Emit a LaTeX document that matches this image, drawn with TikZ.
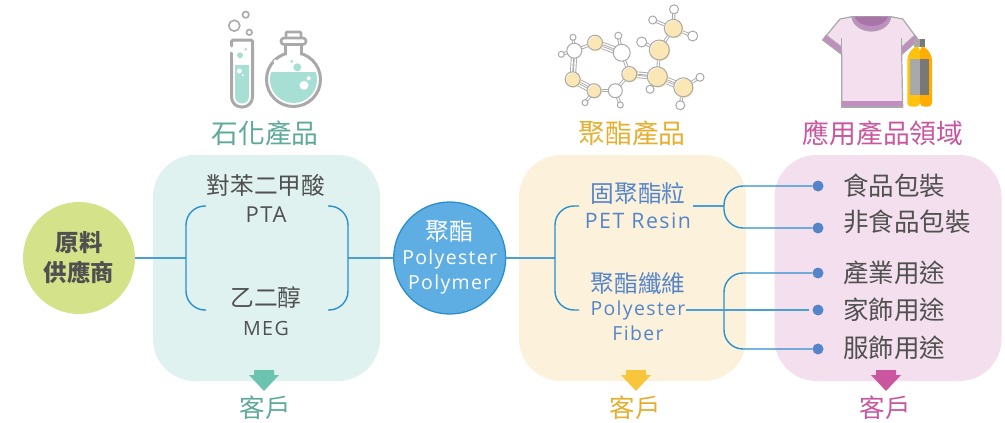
\documentclass[tikz,border=0pt]{standalone}
\usepackage{fontspec}
\setmainfont{Noto Sans CJK TC}
\newfontfamily\lat[LetterSpace=7]{Open Sans}
\definecolor{linec}{HTML}{2A8FCF}
\definecolor{dotc}{HTML}{5585C8}
\definecolor{tealp}{HTML}{DFF2EF}
\definecolor{yelp}{HTML}{FCF2DC}
\definecolor{pinkp}{HTML}{F3DFEE}
\definecolor{teald}{HTML}{5FA99A}
\definecolor{yeld}{HTML}{E5AE2E}
\definecolor{pinkd}{HTML}{C9569F}
\definecolor{tealar}{HTML}{6CC4B0}
\definecolor{yelar}{HTML}{F8C63D}
\definecolor{ink}{HTML}{505050}
\definecolor{icong}{HTML}{A9A9A9}
\definecolor{liq}{HTML}{A8DFD5}
\definecolor{atomy}{HTML}{FBE7B5}
\definecolor{shirtp}{HTML}{C08FC0}
\definecolor{shirtd}{HTML}{A875A8}
\newcommand\bnd[2]{\draw[icong,line width=3.2] (#1)--(#2);\draw[white,line width=1.4] (#1)--(#2);}
\newcommand\dbl[2]{\begin{scope}[transform canvas={shift={(1.6pt,1.6pt)}}]\bnd{#1}{#2}\end{scope}\begin{scope}[transform canvas={shift={(-1.6pt,-1.6pt)}}]\bnd{#1}{#2}\end{scope}}
\newcommand\atomw[3]{\draw[icong,fill=white,line width=1] (#1,#2) circle[radius=#3pt];}
\newcommand\atomy[3]{\fill[white] (#1,#2) circle[radius=#3pt];\fill[atomy] (#1+1,#2+1) circle[radius=#3pt];\draw[icong,line width=1] (#1,#2) circle[radius=#3pt];}
\newcommand\arrowdown[2]{\fill[#2] (#1-10,370)--(#1+10,370)--(#1+10,375)--(#1+15,375)--(#1,391)--(#1-15,375)--(#1-10,375)--cycle;}
\tikzset{
  panel/.style={minimum width=227pt,minimum height=226pt,rounded corners=42pt,draw=none,inner sep=0},
  hub/.style={circle,minimum size=112pt,inner sep=0},
  conn/.style={draw=linec,line width=1.4,rounded corners=19pt},
  feed/.style={draw=linec!85!white,line width=1.8},
  title/.style={font=\fontsize{26.8}{29}\selectfont,inner sep=0},
  cust/.style={font=\fontsize{25.5}{28}\selectfont,inner sep=0},
  dark/.style={text=ink,font=\fontsize{23.7}{26}\selectfont,inner sep=0},
  latd/.style={text=ink,font=\lat\fontsize{19.6}{22}\selectfont,inner sep=0},
  blue/.style={text=dotc,font=\fontsize{23.7}{26}\selectfont,inner sep=0},
  latb/.style={text=dotc,font=\lat\fontsize{19.4}{22}\selectfont,inner sep=0},
  item/.style={text=ink,font=\fontsize{25.5}{28}\selectfont,inner sep=0,anchor=west},
  dotn/.style={circle,fill=dotc,minimum size=11pt,inner sep=0},
}
\begin{document}
\begin{tikzpicture}[x=1pt,y=-1pt]
\useasboundingbox (0,0) rectangle (1005,423);
% panels
\node[panel,fill=tealp] (pa) at (266.5,268) {};
\node[panel,fill=yelp] (pb) at (632.5,268) {};
\node[panel,fill=pinkp] (pc) at (888,268) {};
% coordinates
\coordinate (at) at (206,206); \coordinate (ab) at (206,310); \coordinate (aj) at (186,258);
\coordinate (bt) at (328,206); \coordinate (bb) at (328,310); \coordinate (bj) at (348,258);
\coordinate (ct) at (579,206); \coordinate (cb) at (579,310); \coordinate (cj) at (555,258);
\coordinate (dj) at (724,206); \coordinate (ds) at (693,206);
\coordinate (ej) at (724,310); \coordinate (es) at (686,310);
% hubs
\node[hub,fill={rgb,255:red,212;green,227;blue,138}] (src) at (79,258) {};
\node[hub,draw=linec,line width=1.3,fill={rgb,255:red,95;green,174;blue,227}] (poly) at (449.7,258) {};
% dots
\node[dotn] (d1) at (818,186) {};
\node[dotn] (d2) at (818,228) {};
\node[dotn] (d3) at (818,273) {};
\node[dotn] (d4) at (818,310) {};
\node[dotn] (d5) at (818,349) {};
% connectors
\draw[feed] (src.east) -- (aj);
\draw[feed] (bj) -- (poly.west);
\draw[feed] (poly.east) -- (cj);
\draw[conn] (at) -| (aj) |- (ab);
\draw[conn] (bt) -| (bj) |- (bb);
\draw[conn] (ct) -| (cj) |- (cb);
\draw[feed] (ds) -- (dj);
\draw[conn] (d1) -| (dj);
\draw[conn] (d2) -| (dj);
\draw[conn] (d3) -| (ej) |- (d5);
\draw[feed] (es) -- ([xshift=-3pt]d4.west);
% text
\node[title,text=teald] (t1) at (265,133) {石化產品};
\node[title,text=yeld] (t2) at (632,133) {聚酯產品};
\node[title,text=pinkd] (t3) at (883,133) {應用產品領域};
\node[dark] (a1) at (266,185) {對苯二甲酸};
\node[latd,font=\lat\fontsize{22}{24}\selectfont] (a2) at (266,215) {PTA};
\node[dark] (a3) at (266,297) {乙二醇};
\node[latd] (a4) at (266,328) {MEG};
\node[inner sep=0,text=ink,font=\fontsize{23.4}{26}\selectfont\bfseries] (s1) at (79,243) {原料};
\node[inner sep=0,text=ink,font=\fontsize{23.4}{26}\selectfont\bfseries] (s2) at (79,272) {供應商};
\node[inner sep=0,text=white,font=\fontsize{24}{26}\selectfont] (p1) at (449.7,232) {聚酯};
\node[inner sep=0,text=white,font=\lat\fontsize{19.4}{22}\selectfont] (p2) at (449.7,259) {Polyester};
\node[inner sep=0,text=white,font=\lat\fontsize{19.4}{22}\selectfont] (p3) at (449.7,284) {Polymer};
\node[blue] (b1) at (638,194) {固聚酯粒};
\node[latb,font=\lat\fontsize{21.3}{24}\selectfont] (b2) at (638,221) {PET Resin};
\node[blue] (b3) at (638,284) {聚酯纖維};
\node[latb] (b4) at (638,310) {Polyester};
\node[latb] (b5) at (638,333) {Fiber};
\node[item] (i1) at (843,186) {食品包裝};
\node[item] (i2) at (843,222) {非食品包裝};
\node[item] (i3) at (843,273) {產業用途};
\node[item] (i4) at (843,310) {家飾用途};
\node[item] (i5) at (843,348) {服飾用途};
% down arrows and customers
\arrowdown{264}{tealar}
\arrowdown{636}{yelar}
\arrowdown{886}{pinkd}
\node[cust,text=teald] (c1) at (265,408) {客戶};
\node[cust,text=yeld] (c2) at (635,408) {客戶};
\node[cust,text=pinkd] (c3) at (885,408) {客戶};
% ---- lab icon
\draw[icong,line width=1.6] (234.3,25.7) circle[radius=5.5pt] (245.7,14.7) circle[radius=3.2pt] (249.3,32.3) circle[radius=2.8pt];
\fill[liq,rounded corners=7pt] (235,65) -- (249,65) -- (249,103.5) -- (235,103.5) -- cycle;
\fill[liq] (235,65) rectangle (249,90);
\draw[icong,line width=3,rounded corners=10pt] (231.5,60) -- (231.5,107) -- (252.5,107) -- (252.5,60);
\draw[icong,line width=3,line cap=round,rounded corners=1.5pt] (231.5,60) -- (231.5,53);
\draw[icong,line width=3,line cap=round,rounded corners=1.5pt] (231.5,46) -- (231.5,40) -- (252.5,40) -- (252.5,60);
\fill[liq] (240,55.3) circle[radius=3pt] (245.7,49.3) circle[radius=1.4pt];
\fill[white] (239.3,71) circle[radius=2.5pt] (242.7,75) circle[radius=1.1pt];
\begin{scope}
\clip (293.5,79.5) circle[radius=23.5pt];
\fill[liq] (265,72) rectangle (322,110);
\end{scope}
\draw[icong,line width=3] (293.5,79.5) circle[radius=27pt];
\fill[white] (287,46) rectangle (300,57);
\fill[white] (275.5,61.5) circle[radius=2pt];
\draw[icong,line width=3] (285.5,44) -- (285.5,54) (301.5,44) -- (301.5,54);
\draw[icong,line width=2.6,rounded corners=3pt,fill=white] (281,38) rectangle (306,44.5);
\draw[icong,line width=2.6,rounded corners=1pt] (286,38) -- (286,32) -- (301,32) -- (301,38);
\fill[liq] (291.7,61.3) circle[radius=1.6pt] (297.3,67.3) circle[radius=4pt];
\fill[white] (304,85.3) circle[radius=4.5pt] (308.7,78.3) circle[radius=2pt];
% ---- molecule
\bnd{574.3,50.7}{595,42.7}
\dbl{595,42.7}{621.7,52.7}
\bnd{621.7,52.7}{629.3,74}
\bnd{629.3,74}{615.3,90.7}
\bnd{615.3,90.7}{594,90.7}
\dbl{594,90.7}{572.7,79.3}
\dbl{572.7,79.3}{574.3,50.7}
\bnd{574.3,50.7}{573,37.3}
\bnd{574.3,50.7}{561.3,54.3}
\bnd{621.7,52.7}{618.3,35.7}
\bnd{594,90.7}{585,102.7}
\bnd{615.3,90.7}{620.3,105}
\dbl{629.3,74}{657.3,76.7}
\bnd{657.3,76.7}{659.3,50}
\bnd{659.3,50}{641.7,42}
\bnd{659.3,50}{673.3,28.3}
\bnd{657.3,76.7}{650,89.3}
\dbl{657.3,76.7}{683.3,87.3}
\bnd{683.3,87.3}{700,77.3}
\bnd{683.3,87.3}{680.3,105.3}
\bnd{673.3,28.3}{652.7,20}
\bnd{673.3,28.3}{674,9.3}
\bnd{673.3,28.3}{692.7,36}
\atomw{574.3}{50.7}{7.5}
\atomw{621.7}{52.7}{8.5}
\atomw{615.3}{90.7}{7}
\atomy{595}{42.7}{7.5}
\atomy{629.3}{74}{7.5}
\atomy{572.7}{79.3}{7.5}
\atomy{594}{90.7}{7}
\atomy{657.3}{76.7}{10}
\atomy{659.3}{50}{10}
\atomy{673.3}{28.3}{9}
\atomy{683.3}{87.3}{9.5}
\atomw{573}{37.3}{3}
\atomw{561.3}{54.3}{3}
\atomw{618.3}{35.7}{3.5}
\atomw{585}{102.7}{3}
\atomw{620.3}{105}{3}
\atomw{641.7}{42}{5}
\atomw{650}{89.3}{4}
\atomw{652.7}{20}{4}
\atomw{674}{9.3}{4.5}
\atomw{692.7}{36}{5}
\atomw{700}{77.3}{4}
\atomw{680.3}{105.3}{4.5}
% ---- shirt
\draw[icong,line width=1.2,fill=pinkp,line join=round] (851.7,16.7) -- (840,19) -- (822.7,40) -- (841.7,54.3) -- (841.7,107) -- (902.7,107) -- (901.7,54.3) -- (918.3,40) -- (902.7,19) -- (891,16.7) -- cycle;
\fill[shirtp,draw=icong,line width=0.8] (826,35) -- (822.7,40) -- (841.7,54.3) -- (841.7,47) -- cycle;
\fill[shirtp,draw=icong,line width=0.8] (915,35) -- (918.3,40) -- (901.7,54.3) -- (901.7,47) -- cycle;
\fill[shirtp] (841.7,100.7) rectangle (902.7,107);
\draw[icong,line width=1.2] (841.7,100.7) -- (841.7,107) -- (902.7,107) -- (902.7,100.7);
\draw[icong,line width=1] (841.7,38) -- (841.7,54) (901.7,38) -- (901.7,54);
\fill[shirtp,draw=icong,line width=0.8] (851.7,16.7) .. controls (855,36) and (888,36) .. (891,16.7) -- cycle;
\fill[shirtd] (855,16.7) .. controls (858,29) and (885,29) .. (888,16.7) -- cycle;
% ---- bottle
\fill[black!53] (914,39.3) rectangle (925,47);
\fill[icong] (914,39.3) rectangle (919.5,47);
\fill[rounded corners=4pt,fill={rgb,255:red,255;green,194;blue,14}] (914,46.5) -- (907.3,56) -- (907.3,106.7) -- (920,106.7) -- (920,46.5) -- cycle;
\fill[rounded corners=4pt,fill={rgb,255:red,255;green,174;blue,0}] (920,46.5) -- (925,46.5) -- (932,56) -- (932,106.7) -- (920,106.7) -- cycle;
\fill[icong] (910,59) rectangle (919.5,95);
\fill[black!53] (919.5,59) rectangle (929,95);
\end{tikzpicture}
\end{document}
